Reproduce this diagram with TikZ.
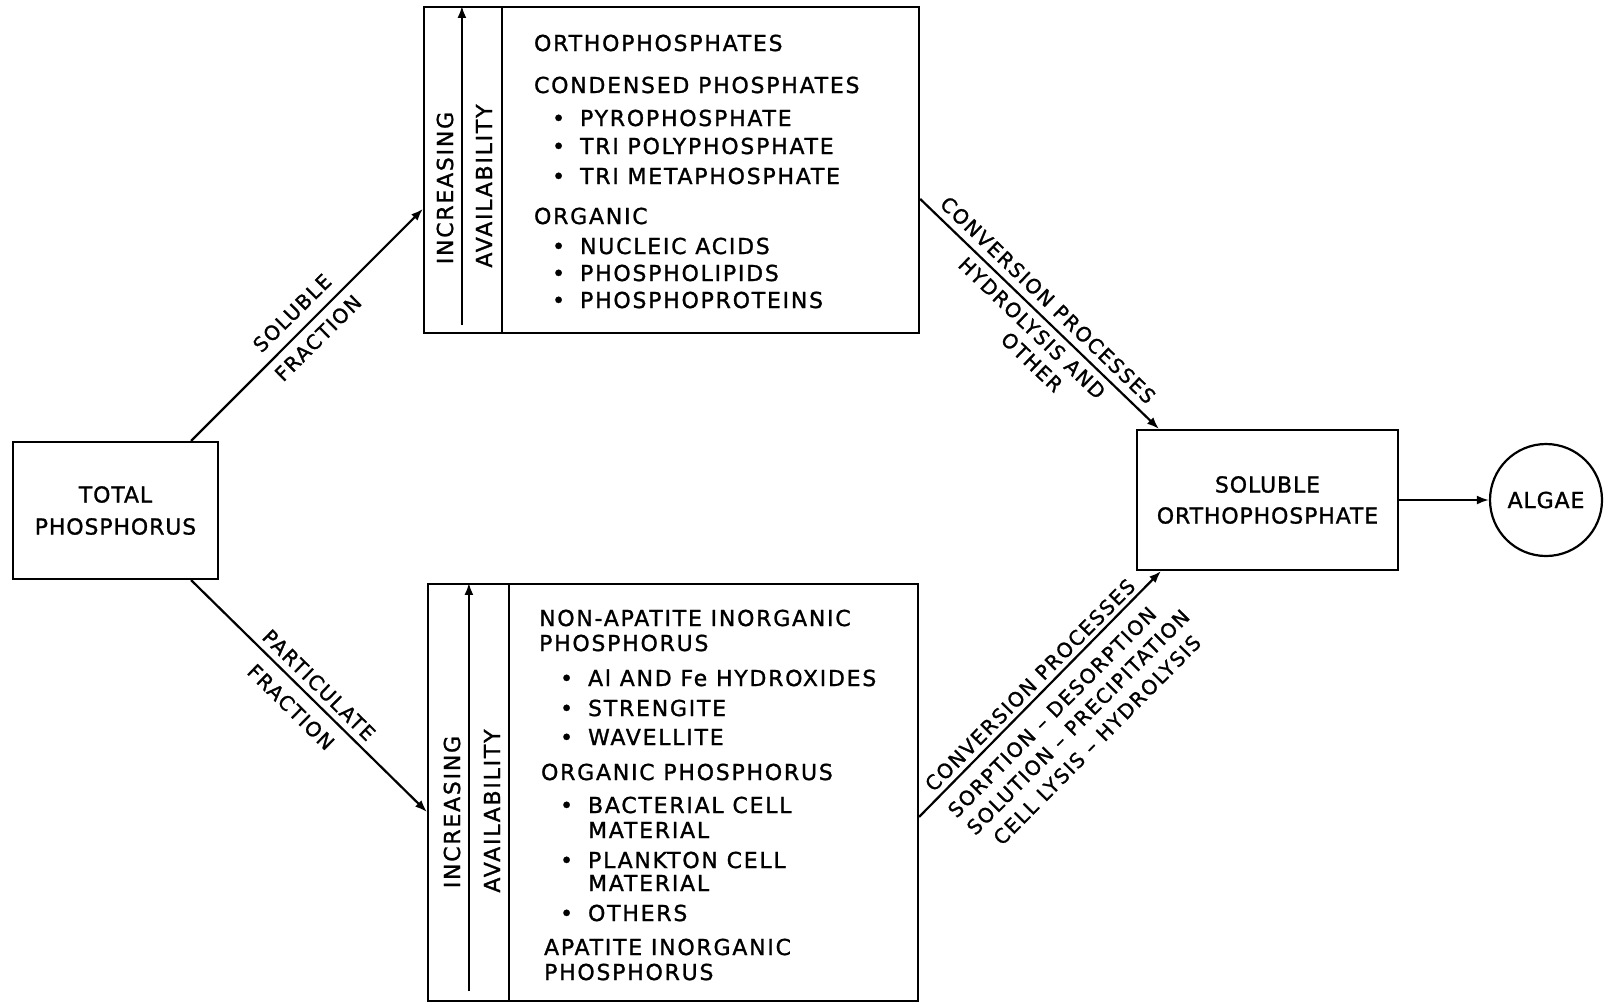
\documentclass[tikz,border=0pt]{standalone}
\usepackage{fontspec}
\setmainfont{DejaVu Sans}
\newfontfamily\letterA[LetterSpace=8,FakeBold=1.2]{DejaVu Sans}
\newfontfamily\letterB[LetterSpace=4,FakeBold=1.2]{DejaVu Sans}
\usetikzlibrary{arrows.meta,calc}
\newcommand{\bul}{\makebox[14pt][l]{•}}
\begin{document}
\begin{tikzpicture}[x=0.5pt,y=-0.5pt,line width=1.1pt,
  box/.style={draw,rectangle,inner sep=0pt,align=center,font={\letterB\fontsize{11pt}{16pt}\selectfont}},
  txt/.style={inner sep=0pt,anchor=base west,font={\letterA\fontsize{11pt}{13pt}\selectfont}},
  vtxt/.style={inner sep=0pt,rotate=90,font={\letterA\fontsize{11pt}{13pt}\selectfont}},
  lab/.style={inner sep=0pt,font={\letterA\fontsize{10pt}{12pt}\selectfont}},
  arr/.style={-{Latex[length=6pt,width=4.5pt]}}]
\useasboundingbox (0,0) rectangle (1604,1003);
\fill[white] (0,0) rectangle (1604,1003);

% main boxes
\node[box,minimum width=102.5pt,minimum height=68.5pt] (tot) at (115.5,510.5) {TOTAL\\PHOSPHORUS};
\node[draw,rectangle,inner sep=0pt,minimum width=247.5pt,minimum height=163pt] (top) at (671.5,170) {};
\node[draw,rectangle,inner sep=0pt,minimum width=245pt,minimum height=208.5pt] (bot) at (673,792.5) {};
\node[box,minimum width=130.5pt,minimum height=70pt,font={\letterB\fontsize{11pt}{15.5pt}\selectfont}] (sol) at (1267.5,500) {SOLUBLE\\ORTHOPHOSPHATE};
\node[draw,circle,inner sep=0pt,minimum size=56pt,font={\letterB\fontsize{11pt}{13pt}\selectfont}] (alg) at (1546,500) {ALGAE};

% dividers and availability arrows
\draw ($(top.north west)+(79,0)$) -- ($(top.south west)+(79,0)$);
\draw[arr] ($(top.south west)+(39,-9)$) -- ($(top.north west)+(39,0)$);
\draw ($(bot.north west)+(82,0)$) -- ($(bot.south west)+(82,0)$);
\draw[arr] ($(bot.south west)+(42,-11)$) -- ($(bot.north west)+(42,0)$);

\node[vtxt] (ti) at (445,188) {INCREASING};
\node[vtxt] (ta) at (484,186) {AVAILABILITY};
\node[vtxt] (bi) at (452,812) {INCREASING};
\node[vtxt] (ba) at (492,811) {AVAILABILITY};

% top box text
\node[txt] (t1) at (533,51) {ORTHOPHOSPHATES};
\node[txt] (t2) at (533,93) {CONDENSED PHOSPHATES};
\node[txt] (t3) at (551,126) {\bul PYROPHOSPHATE};
\node[txt] (t4) at (551,154) {\bul TRI POLYPHOSPHATE};
\node[txt] (t5) at (551,184) {\bul TRI METAPHOSPHATE};
\node[txt] (t6) at (533,224) {ORGANIC};
\node[txt] (t7) at (551,254) {\bul NUCLEIC ACIDS};
\node[txt] (t8) at (551,281) {\bul PHOSPHOLIPIDS};
\node[txt] (t9) at (551,308) {\bul PHOSPHOPROTEINS};

% bottom box text
\node[txt] (b1) at (538,626) {NON-APATITE INORGANIC};
\node[txt] (b2) at (538,651) {PHOSPHORUS};
\node[txt] (b3) at (559,686) {\bul Al AND Fe HYDROXIDES};
\node[txt] (b4) at (559,716) {\bul STRENGITE};
\node[txt] (b5) at (559,745) {\bul WAVELLITE};
\node[txt] (b6) at (540,780) {ORGANIC PHOSPHORUS};
\node[txt] (b7) at (559,813) {\bul BACTERIAL CELL};
\node[txt] (b8) at (587,838) {MATERIAL};
\node[txt] (b9) at (559,868) {\bul PLANKTON CELL};
\node[txt] (b10) at (587,891) {MATERIAL};
\node[txt] (b11) at (559,921) {\bul OTHERS};
\node[txt] (b12) at (543,955) {APATITE INORGANIC};
\node[txt] (b13) at (543,980) {PHOSPHORUS};

% connectors
\draw[arr] ($(tot.north east)+(-28,0)$) -- ($(top.north west)+(0,203)$);
\draw[arr] ($(tot.south east)+(-28,0)$) -- ($(bot.north west)+(0,229)$);
\draw[arr] ($(top.north east)+(0,193)$) -- ($(sol.north west)+(23,0)$);
\draw[arr] ($(bot.north east)+(0,234)$) -- ($(sol.south west)+(25,0)$);
\draw[arr] (alg.west -| sol.east) -- (alg.west);

% connector labels
\node[lab,rotate=44.75] (l1) at (292,313) {SOLUBLE};
\node[lab,rotate=44.75] (l2) at (318,338) {FRACTION};
\node[lab,rotate=-44.5] (l3) at (319,685) {PARTICULATE};
\node[lab,rotate=-44.5] (l4) at (291,707) {FRACTION};
\node[lab,rotate=-43.8] (l5) at (1048,300) {CONVERSION PROCESSES};
\node[lab,rotate=-43.8] (l6) at (1032,328) {HYDROLYSIS AND};
\node[lab,rotate=-43.8] (l7) at (1032,362) {OTHER};
\node[lab,rotate=45.3] (l8) at (1030,685) {CONVERSION PROCESSES};
\node[lab,rotate=45.3] (l9) at (1052,712) {SORPTION – DESORPTION};
\node[lab,rotate=45.3] (l10) at (1078,722) {SOLUTION – PRECIPITATION};
\node[lab,rotate=45.3] (l11) at (1097,740) {CELL LYSIS – HYDROLYSIS};
\end{tikzpicture}
\end{document}
